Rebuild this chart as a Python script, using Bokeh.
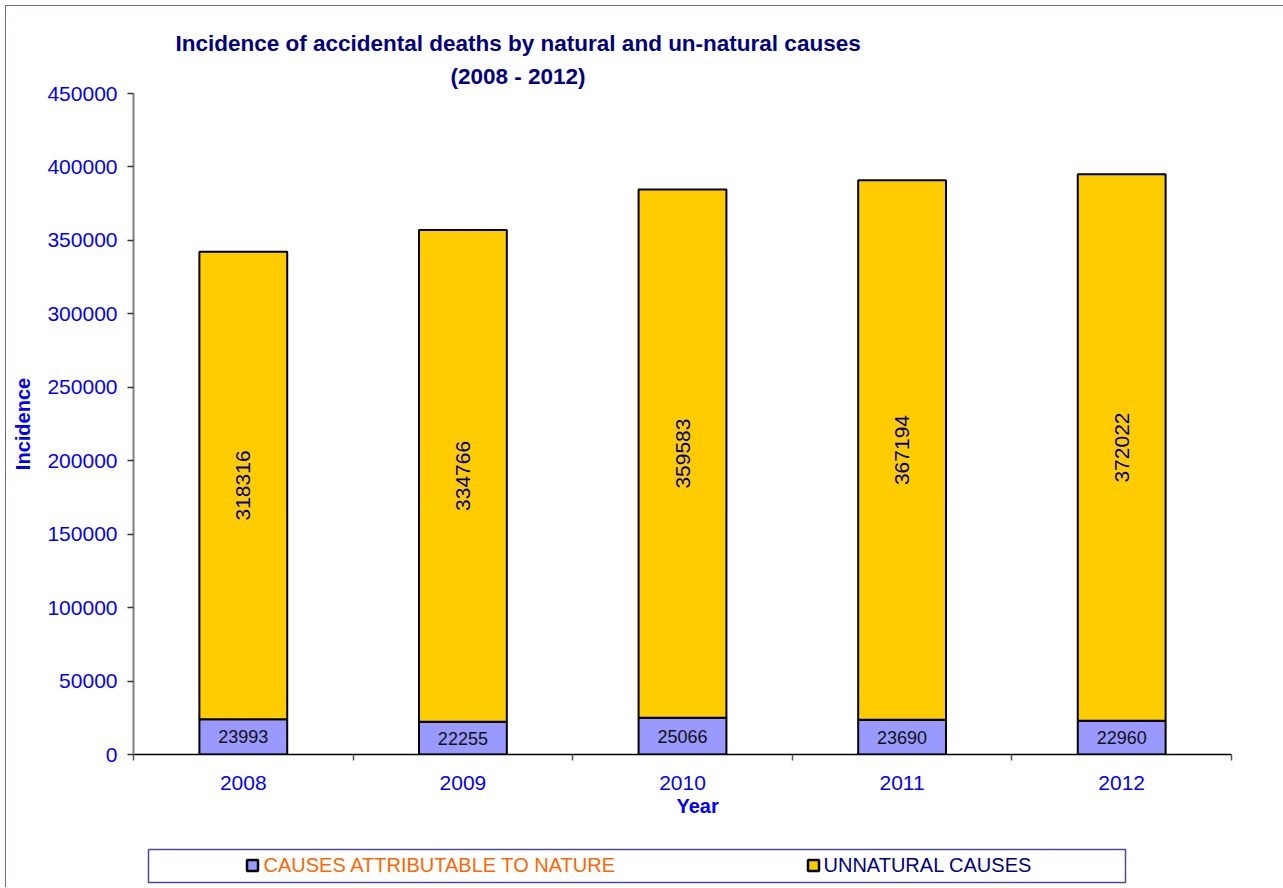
import math
import pandas as pd
from bokeh.plotting import figure
from bokeh.models import ColumnDataSource, Range1d, FixedTicker, PrintfTickFormatter, Title
from bokeh.layouts import column
from bokeh.core.properties import value
from bokeh.embed import file_html
from bokeh.resources import INLINE

# ---- data ----
years = ["2008", "2009", "2010", "2011", "2012"]
natural = [23993, 22255, 25066, 23690, 22960]
unnatural = [318316, 334766, 359583, 367194, 372022]
y_ticks = [0, 50000, 100000, 150000, 200000, 250000, 300000, 350000, 400000, 450000]
series_names = ["CAUSES ATTRIBUTABLE TO NATURE", "UNNATURAL CAUSES"]
series_colors = ["#9999FF", "#FFCC00"]
title_lines = ["Incidence of accidental deaths by natural and un-natural causes", "(2008 - 2012)"]
x_title = "Year"
y_title = "Incidence"

FONT = "Liberation Sans"

df = pd.DataFrame({"year": years, "natural": natural, "unnatural": unnatural})
df["x"] = [i + 0.5 for i in range(len(years))]
df["nat_mid"] = df["natural"] / 2
df["unn_mid"] = df["natural"] + df["unnatural"] / 2
df["nat_label"] = df["natural"].astype(str)
df["unn_label"] = df["unnatural"].astype(str)
src = ColumnDataSource(df)

p = figure(width=1277, height=836,
           x_range=Range1d(0, len(years)), y_range=Range1d(0, y_ticks[-1]),
           output_backend="svg", toolbar_location=None,
           min_border_left=127, min_border_right=52, min_border_top=87, min_border_bottom=88)
p.outline_line_color = None
p.xgrid.visible = False
p.ygrid.visible = False
p.background_fill_color = "white"
p.border_fill_color = "white"


def style_title(t, size="22.5px", color="#000080"):
    t.text_font = FONT
    t.text_font_style = "bold"
    t.text_font_size = size
    t.text_color = color


# title: first line is the default title (top), second line added nearer the frame
p.title.text = title_lines[0]
p.title.align = "left"
p.title.offset = 42
p.title.standoff = 4
style_title(p.title)
t2 = Title(text=title_lines[1], align="left", offset=317, standoff=9)
style_title(t2)
p.add_layout(t2, "above")

p.vbar_stack(["natural", "unnatural"], x="x", width=0.4, source=src,
             fill_color=series_colors, line_color="black", line_width=2)

p.text(x="x", y="nat_mid", text="nat_label", source=src,
       text_align="center", text_baseline="middle",
       text_font=value(FONT), text_font_size="18px", text_color="#111111")
p.text(x="x", y="unn_mid", text="unn_label", source=src, angle=math.pi / 2,
       text_align="center", text_baseline="middle",
       text_font=value(FONT), text_font_size="21px", text_color="#000080")

# x axis
xa = p.xaxis[0]
xa.ticker = FixedTicker(ticks=list(df["x"]), minor_ticks=list(range(len(years) + 1)))
xa.major_label_overrides = {float(xv): yr for xv, yr in zip(df["x"], years)}
xa.major_tick_line_color = None
xa.major_tick_out = 6
xa.major_tick_in = 0
xa.minor_tick_out = 6
xa.minor_tick_in = 0
xa.minor_tick_line_color = "#555555"
xa.minor_tick_line_width = 1.5
xa.axis_line_color = "black"
xa.axis_line_width = 1.5
xa.major_label_standoff = 15
xa.major_label_text_font = FONT
xa.major_label_text_font_size = "21px"
xa.major_label_text_color = "#0000FF"

# x-axis title, placed slightly right of centre as in the original
xt = Title(text=x_title, align="left", offset=543, standoff=0)
style_title(xt, size="20px", color="#0000FF")
p.add_layout(xt, "below")

# y axis
ya = p.yaxis[0]
ya.ticker = FixedTicker(ticks=y_ticks)
ya.formatter = PrintfTickFormatter(format="%d")
ya.minor_tick_line_color = None
ya.major_tick_out = 6
ya.major_tick_in = 0
ya.major_tick_line_color = "#333333"
ya.major_tick_line_width = 1.5
ya.axis_line_color = "#808080"
ya.axis_line_width = 2
ya.major_label_standoff = 10
ya.major_label_text_font = FONT
ya.major_label_text_font_size = "21px"
ya.major_label_text_color = "#0000FF"
ya.axis_label = y_title
ya.axis_label_standoff = 10
ya.axis_label_text_font = FONT
ya.axis_label_text_font_style = "bold"
ya.axis_label_text_font_size = "20px"
ya.axis_label_text_color = "#0000FF"

# ---- legend strip (its frame is aligned with the main frame: x in page pixels 133..1231) ----
leg = figure(width=1277, height=45, x_range=Range1d(133, 1231), y_range=Range1d(0, 45),
             output_backend="svg", toolbar_location=None,
             min_border_left=127, min_border_right=52, min_border_top=0, min_border_bottom=0)
leg.axis.visible = False
leg.grid.visible = False
leg.outline_line_color = None
leg.border_fill_color = "white"
leg.background_fill_color = "white"
leg.quad(left=[148], right=[1125], bottom=[5], top=[38], fill_color=None,
         line_color="#4b4b9b", line_width=1.5)
leg.rect(x=[252, 813], y=[22, 22], width=11, height=11,
         fill_color=series_colors, line_color="black", line_width=2.5)
leg.text(x=[263, 823], y=[23, 23], text=series_names, text_baseline="middle", text_align="left",
         text_font=value(FONT), text_font_size="20px", text_color=["#FF6600", "#000080"])

layout = column(p, leg, spacing=0, margin=(5, 0, 0, 5),
                styles={"border-left": "1.5px solid #6b6bb5", "border-top": "1.5px solid #6b6bb5"})

open("out.html", "w").write(file_html(layout, INLINE))
